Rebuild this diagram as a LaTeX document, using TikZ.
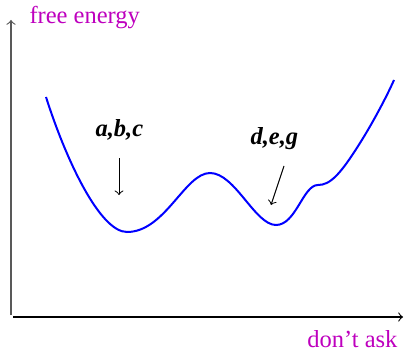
\documentclass[tikz,border=0pt]{standalone}
\usepackage{fontspec}
\setmainfont{Liberation Serif}
\definecolor{labelmag}{RGB}{190,0,190}

\begin{document}
\begin{tikzpicture}[x=0.4pt, y=-0.4pt, font=\fontsize{9.8}{12}\selectfont]
  \useasboundingbox (0,0) rectangle (404,352);

  % 坐标轴
  \coordinate (yfoot) at (11,315);
  \coordinate (ytop) at (11,20);
  \coordinate (xfoot) at (13,317);
  \coordinate (xend) at (403,317);
  \draw[->, gray!70!black, line width=0.45pt] (yfoot) -- (ytop);
  \draw[->, line width=0.45pt] (xfoot) -- (xend);
  \node[labelmag, anchor=base west, inner sep=0pt] (ylab) at (29,24) {free energy};
  \node[labelmag, anchor=base east, inner sep=0pt] (xlab) at (398,347) {don't ask};

  % 自由能曲线
  \draw[blue, line width=0.8pt] (46,97)
    .. controls (66,160) and (100,232) .. (127,232)
    .. controls (165,232) and (185,173) .. (210,173)
    .. controls (235,173) and (255,225) .. (276,225)
    .. controls (296,225) and (303,185) .. (318,185)
    .. controls (330,185) and (340,175) .. (360,143)
    .. controls (372,124) and (386,98) .. (394,80);

  % 标记
  \node[anchor=base west, inner sep=0pt] (abc) at (95,137) {\textbf{\textit{a,b,c}}};
  \coordinate (abcfrom) at (119,158);
  \coordinate (abcto) at (119,195);
  \draw[->, line width=0.4pt] (abcfrom) -- (abcto);

  \node[anchor=base west, inner sep=0pt] (deg) at (250,145) {\textbf{\textit{d,e,g}}};
  \coordinate (degfrom) at (284,166);
  \coordinate (degto) at (271,205);
  \draw[->, line width=0.4pt] (degfrom) -- (degto);
\end{tikzpicture}
\end{document}
